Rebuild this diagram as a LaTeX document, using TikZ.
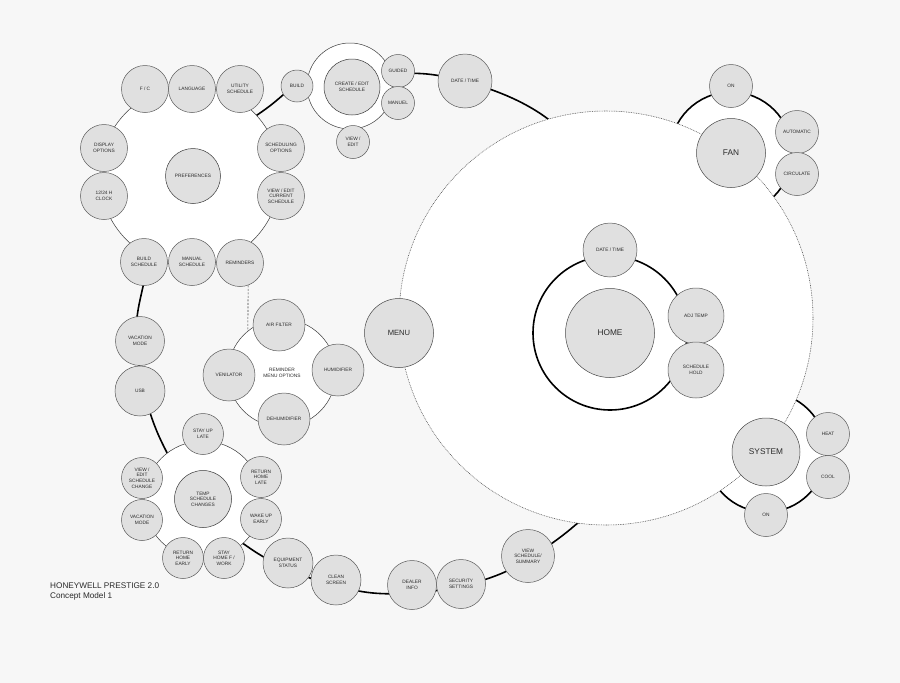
\documentclass[tikz,border=0pt]{standalone}
\usepackage{fontspec}
\setmainfont{Liberation Sans}
\definecolor{bgc}{HTML}{F7F7F7}
\definecolor{nodefill}{HTML}{E0E0E0}
\definecolor{nodeline}{HTML}{5A5A5A}
\definecolor{ringline}{HTML}{3A3A3A}
\definecolor{txt}{HTML}{2A2A2A}
\newcommand\smallfnt{\fontsize{4.8}{5.6}\selectfont}
\newcommand\bigfnt{\fontsize{8.3}{9.5}\selectfont}
\begin{document}
\begin{tikzpicture}[x=1pt,y=-1pt,
  bub/.style={circle,draw=nodeline,fill=nodefill,line width=0.5pt,inner sep=0pt,
    minimum size=#1,align=center,font=\smallfnt,text=txt},
  bigbub/.style={bub=#1,font=\bigfnt,draw=nodeline!80!black},
  thinring/.style={circle,draw=ringline,fill=white,line width=0.5pt,inner sep=0pt,
    minimum size=#1,align=center,font=\smallfnt,text=txt},
  thickring/.style={circle,draw=black,line width=1.6pt,inner sep=0pt,minimum size=#1},
  mainring/.style={draw=black,line width=1.6pt},
  dotring/.style={circle,draw=black!70,line width=0.55pt,dash pattern=on 0.8pt off 0.9pt,
    fill=white,inner sep=0pt,minimum size=#1},
]
% background / bounding box
\fill[bgc] (0,0) rectangle (900,683);
\useasboundingbox (0,0) rectangle (900,683);

% main thick ring
\draw[mainring] plot[smooth cycle, tension=0.55] coordinates {
  (297,87) (350,77) (427,74) (495,91) (548,119) (600,170) (650,330) (600,490)
  (573,527) (507,571) (440,590) (373,593) (310,578) (254,551) (200,505)
  (158,434) (139,365) (140,300) (180,180) (271,105)};

% fan and system rings (thick, white)
\node[thickring=122pt,fill=white] (fanring) at (731,153) {};
\node[thickring=120pt,fill=white] (sysring) at (766,452) {};

% group rings (thin, white)
\node[thinring=180pt] (prefring) at (190,176) {};
\node[thinring=86pt] (creatring) at (350,86) {};
\node[thinring=108pt] (remring) at (282,373) {REMINDER\\MENU OPTIONS};
\node[thinring=118pt] (tempring) at (203,500) {};

% big dotted circle
\node[dotring=414pt] (bigring) at (606,318) {};

% home ring
\node[thickring=154pt] (homering) at (610,333) {};

% preferences group
\node[bub=55pt,draw=ringline] (preferences) at (193,176) {PREFERENCES};
\node[bub=47pt] (fc) at (145,89) {F / C};
\node[bub=47pt] (language) at (192,89) {LANGUAGE};
\node[bub=47pt] (utility) at (240,89) {UTILITY\\SCHEDULE};
\node[bub=47pt] (schedopt) at (281,148) {SCHEDULING\\OPTIONS};
\node[bub=47pt] (viewcur) at (281,196) {VIEW / EDIT\\CURRENT\\SCHEDULE};
\node[bub=47pt] (reminders) at (240,263) {REMINDERS};
\node[bub=47pt] (manual) at (192,262) {MANUAL\\SCHEDULE};
\node[bub=47pt] (buildsch) at (144,262) {BUILD\\SCHEDULE};
\node[bub=47pt] (display) at (104,148) {DISPLAY\\OPTIONS};
\node[bub=47pt] (clock) at (104,196) {12/24 H\\CLOCK};

% create / edit group
\node[bub=56pt,draw=ringline] (create) at (352,87) {CREATE / EDIT\\SCHEDULE};
\node[bub=32pt] (build) at (297,86) {BUILD};
\node[bub=33pt] (guided) at (398,71) {GUIDED};
\node[bub=33pt] (manuel) at (398,103) {MANUEL};
\node[bub=33pt] (viewedit) at (353,142) {VIEW /\\EDIT};
\node[bub=54pt] (datetime) at (465,81) {DATE / TIME};

% left chain
\node[bub=49pt] (vacation) at (140,341) {VACATION\\MODE};
\node[bub=50pt] (usb) at (140,391) {USB};

% reminder group
\node[bub=52pt] (airfilter) at (279,325) {AIR FILTER};
\node[bub=52pt] (venilator) at (229,375) {VENILATOR};
\node[bub=52pt] (humidifier) at (338,370) {HUMIDIFIER};
\node[bub=52pt] (dehumid) at (284,419) {DEHUMIDIFIER};
\draw[black!75,line width=0.6pt,dash pattern=on 2pt off 1.5pt] (reminders.-70) -- (remring.129);

% temp schedule group
\node[bub=57pt,draw=ringline] (temp) at (203,499) {TEMP\\SCHEDULE\\CHANGES};
\node[bub=41pt] (stayup) at (203,434) {STAY UP\\LATE};
\node[bub=41pt] (viewchange) at (142,478) {VIEW /\\EDIT\\SCHEDULE\\CHANGE};
\node[bub=41pt] (vacation2) at (142,520) {VACATION\\MODE};
\node[bub=41pt] (retearly) at (183,558) {RETURN\\HOME\\EARLY};
\node[bub=41pt] (stayhome) at (224,558) {STAY\\HOME F /\\WORK};
\node[bub=41pt] (wakeup) at (261,519) {WAKE UP\\EARLY};
\node[bub=41pt] (retlate) at (261,477) {RETURN\\HOME\\LATE};

% bottom chain
\node[bub=50pt] (equip) at (288,563) {EQUIPMENT\\STATUS};
\node[bub=50pt] (clean) at (336,580) {CLEAN\\SCREEN};
\node[bub=49pt] (dealer) at (412,585) {DEALER\\INFO};
\node[bub=49pt] (security) at (461,584) {SECURITY\\SETTINGS};
\node[bub=53pt] (viewsum) at (528,556) {VIEW\\SCHEDULE/\\SUMMARY};

% menu / home
\node[bigbub=69pt,font=\fontsize{7.6}{9}\selectfont] (menu) at (399,333) {MENU};
\node[bigbub=89pt] (home) at (610,333) {HOME};
\node[bub=54pt] (hdatetime) at (610,250) {DATE / TIME};
\node[bub=56pt] (adjtemp) at (696,316) {ADJ TEMP};
\node[bub=56pt] (schedhold) at (696,370) {SCHEDULE\\HOLD};

% fan group
\node[bigbub=69pt] (fan) at (731,153) {FAN};
\node[bub=43pt] (fanon) at (731,86) {ON};
\node[bub=43pt] (automatic) at (797,132) {AUTOMATIC};
\node[bub=43pt] (circulate) at (797,174) {CIRCULATE};

% system group
\node[bigbub=68pt] (system) at (766,452) {SYSTEM};
\node[bub=43pt] (heat) at (828,434) {HEAT};
\node[bub=43pt] (cool) at (828,477) {COOL};
\node[bub=43pt] (syson) at (766,515) {ON};

% title
\node[anchor=north west,align=left,inner sep=0pt,text=txt,
  font=\fontsize{8.2}{9.6}\selectfont] (title) at (50,583)
  {HONEYWELL PRESTIGE 2.0\\Concept Model 1};
\end{tikzpicture}
\end{document}
